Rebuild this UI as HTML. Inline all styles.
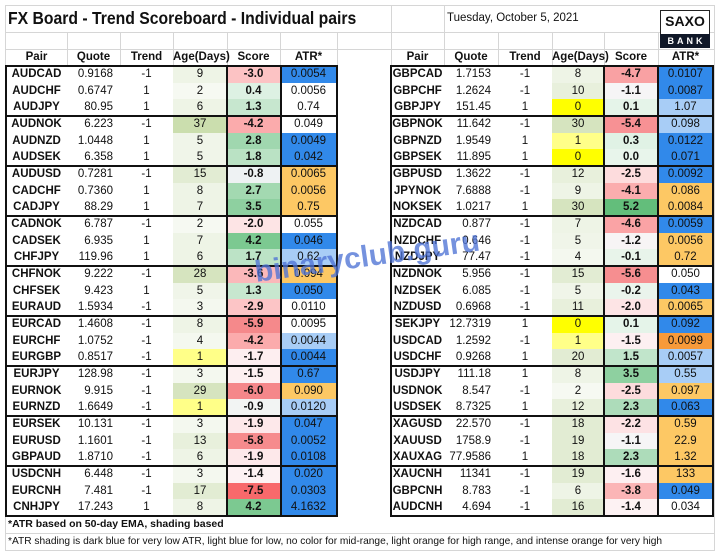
<!DOCTYPE html>
<html><head><meta charset="utf-8"><style>
*{margin:0;padding:0;box-sizing:border-box}
body{width:720px;height:552px;background:#fff;position:relative;overflow:hidden;font-family:"Liberation Sans",sans-serif;color:#111}
.t{position:absolute}
.r{position:absolute;height:16.667px;display:flex;font-size:11.5px;line-height:16.667px}
.r span{display:block;height:16.667px;text-align:center;white-space:nowrap;overflow:hidden}
.r span:nth-child(1){font-weight:bold}
.r span:nth-child(2){text-align:right;padding-right:7px}
.r span:nth-child(5){font-weight:bold}
.L span:nth-child(1){width:61px}.L span:nth-child(2){width:53px}.L span:nth-child(3){width:53px}.L span:nth-child(4){width:54px}.L span:nth-child(5){width:53px}.L span:nth-child(6){width:57px}
.R span:nth-child(1){width:53px}.R span:nth-child(2){width:54px}.R span:nth-child(3){width:54px}.R span:nth-child(4){width:52px}.R span:nth-child(5){width:54px}.R span:nth-child(6){width:55px}
.L{left:6px}.R{left:391px}
.h span{font-weight:bold!important;text-align:center!important;padding:0!important;font-size:11.5px;overflow:visible!important}
.d{background:#3189ea}.l{background:#a8cdf6}.o{background:#fdc864}.x{background:#f79a3a}
.y{background:#ffff00}.ly{background:#ffff88}
.k{position:absolute;background:#111}
.g{position:absolute;background:#d6d6d6}
</style></head><body>
<div class="g" style="left:5px;top:5px;width:710px;height:1px"></div>
<div class="g" style="left:5px;top:5px;width:1px;height:546px"></div>
<div class="g" style="left:714px;top:5px;width:1px;height:546px"></div>
<div class="g" style="left:5px;top:550px;width:710px;height:1px"></div>
<div class="g" style="left:6px;top:32px;width:708px;height:1px"></div>
<div class="g" style="left:6px;top:49px;width:708px;height:1px"></div>
<div class="g" style="left:67px;top:32px;width:1px;height:34px"></div>
<div class="g" style="left:120px;top:32px;width:1px;height:34px"></div>
<div class="g" style="left:173px;top:32px;width:1px;height:34px"></div>
<div class="g" style="left:227px;top:32px;width:1px;height:34px"></div>
<div class="g" style="left:280px;top:32px;width:1px;height:34px"></div>
<div class="g" style="left:337px;top:32px;width:1px;height:34px"></div>
<div class="g" style="left:391px;top:6px;width:1px;height:60px"></div>
<div class="g" style="left:444px;top:6px;width:1px;height:60px"></div>
<div class="g" style="left:498px;top:32px;width:1px;height:34px"></div>
<div class="g" style="left:552px;top:32px;width:1px;height:34px"></div>
<div class="g" style="left:604px;top:32px;width:1px;height:34px"></div>
<div class="g" style="left:658px;top:32px;width:1px;height:34px"></div>
<div class="g" style="left:6px;top:533px;width:708px;height:1px"></div>

<div class="t" style="left:8px;top:8px;font-size:17.5px;font-weight:bold;white-space:nowrap;transform:scaleX(0.9);transform-origin:left">FX Board - Trend Scoreboard - Individual pairs</div>
<div class="t" style="left:447px;top:12px;font-size:11.5px;white-space:nowrap">Tuesday, October 5, 2021</div>
<div class="t" style="left:660px;top:10px;width:50px;height:38px;border:1px solid #222;background:#fff"></div>
<div class="t" style="left:660px;top:13px;width:50px;text-align:center;font-size:14px;font-weight:bold">SAXO</div>
<div class="t" style="left:660px;top:34px;width:50px;height:14px;background:#101828;color:#fff;font-size:9px;font-weight:bold;text-align:center;line-height:14px;letter-spacing:3px;padding-left:3px">BANK</div>

<div class="r L h" style="top:49px"><span>Pair</span><span>Quote</span><span>Trend</span><span>Age(Days)</span><span>Score</span><span>ATR*</span></div>
<div class="r R h" style="top:49px"><span>Pair</span><span>Quote</span><span>Trend</span><span>Age(Days)</span><span>Score</span><span>ATR*</span></div>

<div class="r L" style="top:66px"><span>AUDCAD</span><span>0.9168</span><span>-1</span><span style="background:#eef4e6">9</span><span style="background:#fcc3c4">-3.0</span><span class="d">0.0054</span></div>
<div class="r L" style="top:82.67px"><span>AUDCHF</span><span>0.6747</span><span>1</span><span style="background:#f6f9f2">2</span><span style="background:#ddf1e3">0.4</span><span>0.0056</span></div>
<div class="r L" style="top:99.33px"><span>AUDJPY</span><span>80.95</span><span>1</span><span style="background:#eef4e6">6</span><span style="background:#c7e7cf">1.3</span><span>0.74</span></div>
<div class="r L" style="top:116px"><span>AUDNOK</span><span>6.223</span><span>-1</span><span style="background:#cbdeae">37</span><span style="background:#fbabac">-4.2</span><span>0.049</span></div>
<div class="r L" style="top:132.67px"><span>AUDNZD</span><span>1.0448</span><span>1</span><span style="background:#f0f5e9">5</span><span style="background:#a0d7af">2.8</span><span class="d">0.0049</span></div>
<div class="r L" style="top:149.33px"><span>AUDSEK</span><span>6.358</span><span>1</span><span style="background:#f0f5e9">5</span><span style="background:#bae2c4">1.8</span><span class="d">0.042</span></div>
<div class="r L" style="top:166px"><span>AUDUSD</span><span>0.7281</span><span>-1</span><span style="background:#e2ecd3">15</span><span style="background:#eef2f3">-0.8</span><span class="o">0.0065</span></div>
<div class="r L" style="top:182.67px"><span>CADCHF</span><span>0.7360</span><span>1</span><span style="background:#eef4e6">8</span><span style="background:#a3d9b1">2.7</span><span class="o">0.0056</span></div>
<div class="r L" style="top:199.33px"><span>CADJPY</span><span>88.29</span><span>1</span><span style="background:#eef4e6">7</span><span style="background:#8ed0a0">3.5</span><span class="o">0.75</span></div>
<div class="r L" style="top:216px"><span>CADNOK</span><span>6.787</span><span>-1</span><span style="background:#f6f9f2">2</span><span style="background:#fde4e5">-2.0</span><span>0.055</span></div>
<div class="r L" style="top:232.67px"><span>CADSEK</span><span>6.935</span><span>1</span><span style="background:#eef4e6">7</span><span style="background:#7cc991">4.2</span><span class="d">0.046</span></div>
<div class="r L" style="top:249.33px"><span>CHFJPY</span><span>119.96</span><span>1</span><span style="background:#eef4e6">6</span><span style="background:#bce3c6">1.7</span><span class="l">0.62</span></div>
<div class="r L" style="top:266px"><span>CHFNOK</span><span>9.222</span><span>-1</span><span style="background:#d6e4bf">28</span><span style="background:#fbb8ba">-3.6</span><span class="o">0.094</span></div>
<div class="r L" style="top:282.67px"><span>CHFSEK</span><span>9.423</span><span>1</span><span style="background:#f0f5e9">5</span><span style="background:#c7e7cf">1.3</span><span class="d">0.050</span></div>
<div class="r L" style="top:299.33px"><span>EURAUD</span><span>1.5934</span><span>-1</span><span style="background:#f4f8ef">3</span><span style="background:#fcc5c6">-2.9</span><span>0.0110</span></div>
<div class="r L" style="top:316px"><span>EURCAD</span><span>1.4608</span><span>-1</span><span style="background:#eef4e6">8</span><span style="background:#f5898b">-5.9</span><span>0.0095</span></div>
<div class="r L" style="top:332.67px"><span>EURCHF</span><span>1.0752</span><span>-1</span><span style="background:#f4f8ef">4</span><span style="background:#fbabac">-4.2</span><span class="l">0.0044</span></div>
<div class="r L" style="top:349.33px"><span>EURGBP</span><span>0.8517</span><span>-1</span><span class="ly">1</span><span style="background:#fdeef0">-1.7</span><span class="d">0.0044</span></div>
<div class="r L" style="top:366px"><span>EURJPY</span><span>128.98</span><span>-1</span><span style="background:#f4f8ef">3</span><span style="background:#fdf0f1">-1.5</span><span class="d">0.67</span></div>
<div class="r L" style="top:382.67px"><span>EURNOK</span><span>9.915</span><span>-1</span><span style="background:#d6e4bf">29</span><span style="background:#f5878a">-6.0</span><span class="o">0.090</span></div>
<div class="r L" style="top:399.33px"><span>EURNZD</span><span>1.6649</span><span>-1</span><span class="ly">1</span><span style="background:#f2f4f3">-0.9</span><span class="l">0.0120</span></div>
<div class="r L" style="top:416px"><span>EURSEK</span><span>10.131</span><span>-1</span><span style="background:#f4f8ef">3</span><span style="background:#fde8ea">-1.9</span><span class="d">0.047</span></div>
<div class="r L" style="top:432.67px"><span>EURUSD</span><span>1.1601</span><span>-1</span><span style="background:#e8f0dc">13</span><span style="background:#f68b8d">-5.8</span><span class="d">0.0052</span></div>
<div class="r L" style="top:449.33px"><span>GBPAUD</span><span>1.8710</span><span>-1</span><span style="background:#eef4e6">6</span><span style="background:#fde8ea">-1.9</span><span class="d">0.0108</span></div>
<div class="r L" style="top:466px"><span>USDCNH</span><span>6.448</span><span>-1</span><span style="background:#f4f8ef">3</span><span style="background:#fdf2f3">-1.4</span><span class="d">0.020</span></div>
<div class="r L" style="top:482.67px"><span>EURCNH</span><span>7.481</span><span>-1</span><span style="background:#e2ecd3">17</span><span style="background:#f8696b">-7.5</span><span class="d">0.0303</span></div>
<div class="r L" style="top:499.33px"><span>CNHJPY</span><span>17.243</span><span>1</span><span style="background:#eef4e6">8</span><span style="background:#7cc991">4.2</span><span class="d">4.1632</span></div>

<div class="r R" style="top:66px"><span>GBPCAD</span><span>1.7153</span><span>-1</span><span style="background:#eef4e6">8</span><span style="background:#f9a1a3">-4.7</span><span class="d">0.0107</span></div>
<div class="r R" style="top:82.67px"><span>GBPCHF</span><span>1.2624</span><span>-1</span><span style="background:#e8f0dc">10</span><span style="background:#f6f5f6">-1.1</span><span class="d">0.0087</span></div>
<div class="r R" style="top:99.33px"><span>GBPJPY</span><span>151.45</span><span>1</span><span class="y">0</span><span style="background:#e5f4e9">0.1</span><span class="l">1.07</span></div>
<div class="r R" style="top:116px"><span>GBPNOK</span><span>11.642</span><span>-1</span><span style="background:#d6e4bf">30</span><span style="background:#f79194">-5.4</span><span class="l">0.098</span></div>
<div class="r R" style="top:132.67px"><span>GBPNZD</span><span>1.9549</span><span>1</span><span class="ly">1</span><span style="background:#e0f2e5">0.3</span><span class="d">0.0122</span></div>
<div class="r R" style="top:149.33px"><span>GBPSEK</span><span>11.895</span><span>1</span><span class="y">0</span><span style="background:#e8f5eb">0.0</span><span class="d">0.071</span></div>
<div class="r R" style="top:166px"><span>GBPUSD</span><span>1.3622</span><span>-1</span><span style="background:#e8f0dc">12</span><span style="background:#fddcdd">-2.5</span><span class="d">0.0092</span></div>
<div class="r R" style="top:182.67px"><span>JPYNOK</span><span>7.6888</span><span>-1</span><span style="background:#eef4e6">9</span><span style="background:#fbadae">-4.1</span><span class="o">0.086</span></div>
<div class="r R" style="top:199.33px"><span>NOKSEK</span><span>1.0217</span><span>1</span><span style="background:#d6e4bf">30</span><span style="background:#63be7b">5.2</span><span class="o">0.0084</span></div>
<div class="r R" style="top:216px"><span>NZDCAD</span><span>0.877</span><span>-1</span><span style="background:#eef4e6">7</span><span style="background:#faa3a5">-4.6</span><span class="d">0.0059</span></div>
<div class="r R" style="top:232.67px"><span>NZDCHF</span><span>0.646</span><span>-1</span><span style="background:#f0f5e9">5</span><span style="background:#f7f4f5">-1.2</span><span class="o">0.0056</span></div>
<div class="r R" style="top:249.33px"><span>NZDJPY</span><span>77.47</span><span>-1</span><span style="background:#f4f8ef">4</span><span style="background:#e8f4ea">-0.1</span><span class="o">0.72</span></div>
<div class="r R" style="top:266px"><span>NZDNOK</span><span>5.956</span><span>-1</span><span style="background:#e2ecd3">15</span><span style="background:#f68e90">-5.6</span><span>0.050</span></div>
<div class="r R" style="top:282.67px"><span>NZDSEK</span><span>6.085</span><span>-1</span><span style="background:#f0f5e9">5</span><span style="background:#eaf4ec">-0.2</span><span class="d">0.043</span></div>
<div class="r R" style="top:299.33px"><span>NZDUSD</span><span>0.6968</span><span>-1</span><span style="background:#e8f0dc">11</span><span style="background:#fde4e5">-2.0</span><span class="o">0.0065</span></div>
<div class="r R" style="top:316px"><span>SEKJPY</span><span>12.7319</span><span>1</span><span class="y">0</span><span style="background:#e5f4e9">0.1</span><span class="d">0.092</span></div>
<div class="r R" style="top:332.67px"><span>USDCAD</span><span>1.2592</span><span>-1</span><span class="ly">1</span><span style="background:#fdf0f1">-1.5</span><span class="x">0.0099</span></div>
<div class="r R" style="top:349.33px"><span>USDCHF</span><span>0.9268</span><span>1</span><span style="background:#e2ecd3">20</span><span style="background:#c1e5cb">1.5</span><span class="l">0.0057</span></div>
<div class="r R" style="top:366px"><span>USDJPY</span><span>111.18</span><span>1</span><span style="background:#eef4e6">8</span><span style="background:#8ed0a0">3.5</span><span class="l">0.55</span></div>
<div class="r R" style="top:382.67px"><span>USDNOK</span><span>8.547</span><span>-1</span><span style="background:#f6f9f2">2</span><span style="background:#fddcdd">-2.5</span><span class="o">0.097</span></div>
<div class="r R" style="top:399.33px"><span>USDSEK</span><span>8.7325</span><span>1</span><span style="background:#e8f0dc">12</span><span style="background:#addcba">2.3</span><span class="d">0.063</span></div>
<div class="r R" style="top:416px"><span>XAGUSD</span><span>22.570</span><span>-1</span><span style="background:#e2ecd3">18</span><span style="background:#fde2e4">-2.2</span><span class="o">0.59</span></div>
<div class="r R" style="top:432.67px"><span>XAUUSD</span><span>1758.9</span><span>-1</span><span style="background:#e2ecd3">19</span><span style="background:#f6f5f6">-1.1</span><span class="o">22.9</span></div>
<div class="r R" style="top:449.33px"><span>XAUXAG</span><span>77.9586</span><span>1</span><span style="background:#e2ecd3">18</span><span style="background:#addcba">2.3</span><span class="o">1.32</span></div>
<div class="r R" style="top:466px"><span>XAUCNH</span><span>11341</span><span>-1</span><span style="background:#e2ecd3">19</span><span style="background:#fdeff1">-1.6</span><span class="o">133</span></div>
<div class="r R" style="top:482.67px"><span>GBPCNH</span><span>8.783</span><span>-1</span><span style="background:#eef4e6">6</span><span style="background:#fbb5b6">-3.8</span><span class="d">0.049</span></div>
<div class="r R" style="top:499.33px"><span>AUDCNH</span><span>4.694</span><span>-1</span><span style="background:#e2ecd3">16</span><span style="background:#fdf2f3">-1.4</span><span>0.034</span></div>

<div class="k" style="left:5px;top:65px;width:2px;height:452px"></div>
<div class="k" style="left:226px;top:65px;width:2px;height:452px"></div>
<div class="k" style="left:280px;top:65px;width:2px;height:452px"></div>
<div class="k" style="left:336px;top:65px;width:2px;height:452px"></div>
<div class="k" style="left:390px;top:65px;width:2px;height:452px"></div>
<div class="k" style="left:603px;top:65px;width:2px;height:452px"></div>
<div class="k" style="left:657px;top:65px;width:2px;height:452px"></div>
<div class="k" style="left:712px;top:65px;width:2px;height:452px"></div>
<div class="k" style="left:5px;top:65px;width:333px;height:2px"></div>
<div class="k" style="left:5px;top:115px;width:333px;height:2px"></div>
<div class="k" style="left:5px;top:165px;width:333px;height:2px"></div>
<div class="k" style="left:5px;top:215px;width:333px;height:2px"></div>
<div class="k" style="left:5px;top:265px;width:333px;height:2px"></div>
<div class="k" style="left:5px;top:315px;width:333px;height:2px"></div>
<div class="k" style="left:5px;top:365px;width:333px;height:2px"></div>
<div class="k" style="left:5px;top:415px;width:333px;height:2px"></div>
<div class="k" style="left:5px;top:465px;width:333px;height:2px"></div>
<div class="k" style="left:5px;top:515px;width:333px;height:2px"></div>
<div class="k" style="left:390px;top:65px;width:324px;height:2px"></div>
<div class="k" style="left:390px;top:115px;width:324px;height:2px"></div>
<div class="k" style="left:390px;top:165px;width:324px;height:2px"></div>
<div class="k" style="left:390px;top:215px;width:324px;height:2px"></div>
<div class="k" style="left:390px;top:265px;width:324px;height:2px"></div>
<div class="k" style="left:390px;top:315px;width:324px;height:2px"></div>
<div class="k" style="left:390px;top:365px;width:324px;height:2px"></div>
<div class="k" style="left:390px;top:415px;width:324px;height:2px"></div>
<div class="k" style="left:390px;top:465px;width:324px;height:2px"></div>
<div class="k" style="left:390px;top:515px;width:324px;height:2px"></div>

<div class="t" style="left:8px;top:518px;width:218px;overflow:hidden;white-space:nowrap;font-size:10.5px;font-weight:bold">*ATR based on 50-day EMA, shading based on co</div>
<div class="t" style="left:8px;top:535px;white-space:nowrap;font-size:10.5px;transform:scaleX(0.97);transform-origin:left">*ATR shading is dark blue for very low ATR, light blue for low, no color for mid-range, light orange for high range, and intense orange for very high</div>

<div class="t" style="left:255px;top:256px;font-size:30px;font-weight:bold;color:#4f74d6;opacity:0.78;white-space:nowrap;transform:rotate(-8deg);transform-origin:left center">binaryclub.guru</div>
</body></html>
